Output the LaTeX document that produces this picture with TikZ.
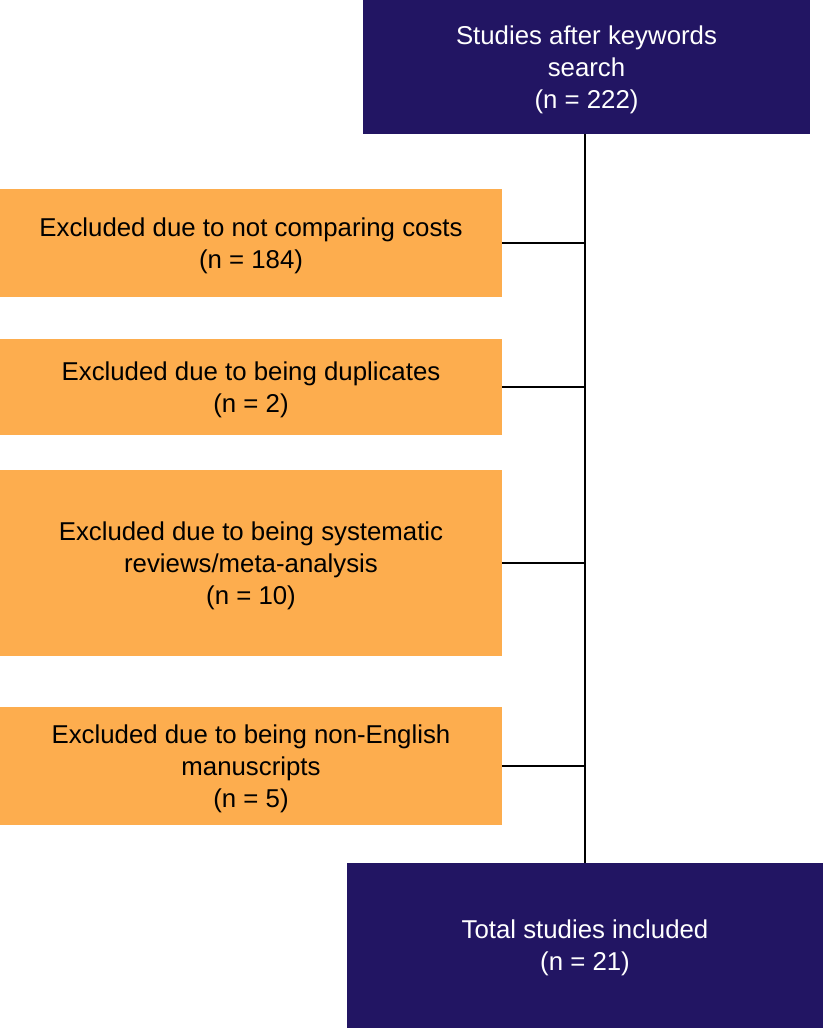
\documentclass[tikz,border=0pt]{standalone}
\usepackage{fontspec}
\setmainfont{Liberation Sans}
\definecolor{navy}{HTML}{221563}
\definecolor{orng}{HTML}{FDAD4E}
\begin{document}
\begin{tikzpicture}[x=1pt,y=-1pt,
  box/.style={rectangle, inner sep=0pt, align=center, text depth=0pt, font=\fontsize{25.8}{32}\selectfont},
  navybox/.style={box, fill=navy, text=white},
  orngbox/.style={box, fill=orng, text=black},
  conn/.style={draw=black, line width=1.8pt}]
\useasboundingbox (0,0) rectangle (825,1030);
\node[navybox, minimum width=447pt, minimum height=134pt] (top) at (586.5,67) {Studies after keywords\\search\\(n = 222)};
\node[orngbox, minimum width=502pt, minimum height=108pt] (b1) at (251,243) {Excluded due to not comparing costs\\(n = 184)};
\node[orngbox, minimum width=502pt, minimum height=96pt] (b2) at (251,387) {Excluded due to being duplicates\\(n = 2)};
\node[orngbox, minimum width=502pt, minimum height=186pt] (b3) at (251,563) {Excluded due to being systematic\\reviews/meta-analysis\\(n = 10)};
\node[orngbox, minimum width=502pt, minimum height=118pt] (b4) at (251,766) {Excluded due to being non-English\\manuscripts\\(n = 5)};
\node[navybox, minimum width=476pt, minimum height=165pt] (bot) at (585,945.5) {Total studies included\\(n = 21)};
\draw[conn] (bot.north) -- (bot.north |- top.south);
\draw[conn] (b1.east) -- (b1.east -| bot.north);
\draw[conn] (b2.east) -- (b2.east -| bot.north);
\draw[conn] (b3.east) -- (b3.east -| bot.north);
\draw[conn] (b4.east) -- (b4.east -| bot.north);
\end{tikzpicture}
\end{document}
